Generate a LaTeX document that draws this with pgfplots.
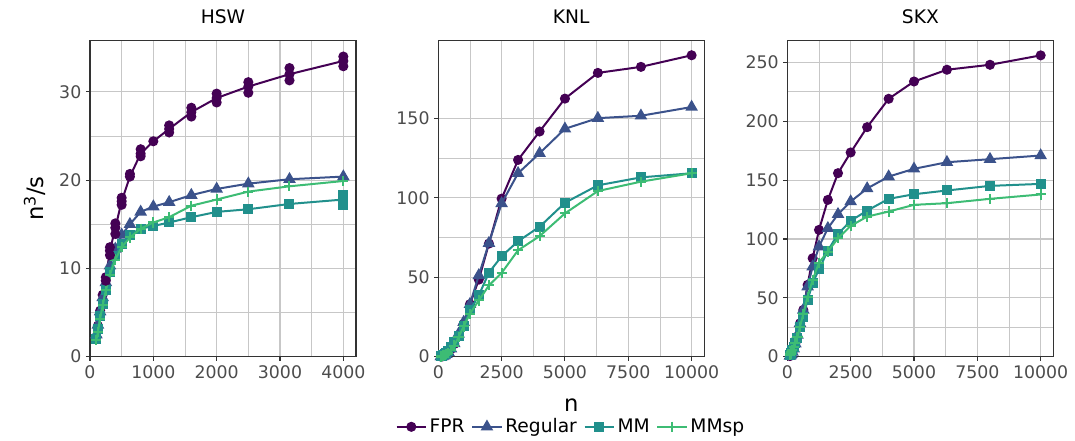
\documentclass[border=0pt]{standalone}
\usepackage{fontspec}
\setmainfont{DejaVu Sans}
\usepackage{pgfplots}
\pgfplotsset{compat=1.18}
\usepackage{pgfplotstable}

\definecolor{cfpr}{HTML}{440154}
\definecolor{creg}{HTML}{3B528B}
\definecolor{cmm}{HTML}{21908C}
\definecolor{cmmsp}{HTML}{3DBC74}

% columns: n, FPR, Regular, MM, MMsp
\pgfplotstableread{
n     fpr   reg   mm    mmsp
100   2.2   2.5   2.0   1.9
125   3.5   3.6   3.1   2.8
160   5.2   5.1   4.6   4.3
200   7.0   6.7   6.0   5.8
250   9.0   8.4   7.6   7.5
315   12.0  10.3  9.6   9.3
400   14.6  12.2  11.4  11.0
500   17.6  13.8  12.8  12.4
630   20.4  15.0  13.8  13.5
800   23.0  16.4  14.5  14.5
1000  24.4  17.0  14.8  15.2
1250  25.8  17.5  15.2  15.8
1600  27.7  18.3  15.8  17.1
2000  29.3  19.0  16.4  17.8
2500  30.6  19.6  16.7  18.7
3150  32.0  20.1  17.3  19.3
4000  33.5  20.4  17.8  19.9
}\hsw

\pgfplotstableread{
n     fpr   reg   mm    mmsp
100   0.05  0.05  0.2   0.1
125   0.1   0.1   0.4   0.2
160   0.2   0.2   0.7   0.4
200   0.4   0.4   1.1   0.7
250   0.8   0.8   1.8   1.1
315   1.5   1.6   2.6   1.7
400   2.7   2.8   3.8   2.5
500   4.8   5.0   5.9   4.0
630   8.0   8.3   9.0   7.0
800   13.0  14.3  13.3  12.2
1000  20.6  21.7  19.6  19.0
1250  33.0  33.0  29.1  27.0
1600  48.5  51.2  38.6  35.4
2000  71.2  71.5  52.9  44.9
2500  99.5  96.5  63.2  52.7
3150  123.9 115.5 72.7  67.0
4000  141.8 128.1 81.8  75.9
5000  162.5 143.5 96.9  90.2
6300  178.7 150.2 107.9 104.3
8000  182.5 151.7 112.9 110.2
10000 189.8 157.2 115.5 115.5
}\knl

\pgfplotstableread{
n     fpr   reg   mm    mmsp
100   0.5   0.5   1.0   1.5
125   1.0   1.0   2.0   2.5
160   2.0   2.0   3.5   4.0
200   4.0   4.0   5.5   6.0
250   7.0   6.8   8.0   8.5
315   11.3  11.0  11.5  12.0
400   17.0  18.4  15.6  16.5
500   28.3  28.3  25.5  25.5
630   39.7  39.7  34.0  36.3
800   61.0  59.5  48.2  51.0
1000  83.6  76.5  62.4  65.2
1250  107.7 93.5  74.3  79.9
1600  133.2 109.1 90.1  89.3
2000  155.9 121.0 104.3 100.6
2500  173.5 131.8 115.4 111.1
3150  195.0 142.9 124.1 119.0
4000  219.1 153.0 134.1 123.3
5000  233.8 159.6 138.0 129.0
6300  243.8 165.2 141.2 130.4
8000  248.0 167.8 145.1 134.1
10000 256.0 170.9 146.8 137.8
}\skx

\pgfplotsset{
  panel/.style={
    scale only axis, width=199.5pt, height=237pt,
    xmin=0, ymin=0,
    grid=both, minor tick num=1,
    major grid style={black!22, line width=0.8pt},
    minor grid style={black!22, line width=0.6pt},
    axis line style={black!80, line width=0.8pt},
    xtick pos=bottom, ytick pos=left,
    tick align=outside, major tick length=3pt, minor tick length=0pt,
    tick style={black!80, line width=0.8pt},
    ticklabel style={font=\fontsize{13}{15}\selectfont, text=black!70},
    title style={font=\fontsize{14}{16}\selectfont, yshift=3pt},
    /pgf/number format/assume math mode=true,
    /pgf/number format/1000 sep={},
    scaled ticks=false,
    clip mode=individual,
    every axis plot/.append style={line width=1.5pt},
  },
  sfpr/.style={cfpr, mark=*, mark size=3pt},
  sreg/.style={creg, mark=triangle*, mark size=4pt},
  smm/.style={cmm, mark=square*, mark size=3pt},
  smmsp/.style={cmmsp, mark=+, mark size=3.8pt, mark options={line width=1.5pt}},
}

\begin{document}
\begin{tikzpicture}
\path[use as bounding box] (-67.5pt,-63.2pt) rectangle (738.75pt,267.5pt);

\begin{axis}[panel, at={(0pt,0pt)}, anchor=south west,
  title={HSW}, xmax=4200, ymax=35.8,
  xtick={0,1000,2000,3000,4000}, ytick={0,10,20,30},
  ylabel={n\textsuperscript{3}/s},
  ylabel style={at={(axis description cs:-0.207,0.5)}, anchor=center,
    font=\fontsize{17}{19}\selectfont}]
\addplot[sfpr] table[x=n, y=fpr] {\hsw};
\addplot[sreg] table[x=n, y=reg] {\hsw};
\addplot[smm] table[x=n, y=mm] {\hsw};
\addplot[smmsp] table[x=n, y=mmsp] {\hsw};
% repeated runs
\addplot[sfpr, only marks, forget plot] coordinates {
  (250,8.6) (315,12.4) (315,11.5) (400,15.1) (400,13.9) (500,18.0) (500,17.2)
  (630,20.7) (800,23.5) (800,22.7) (1250,26.2) (1250,25.4) (1600,28.2) (1600,27.2)
  (2000,29.8) (2000,28.8) (2500,31.1) (2500,29.9) (3150,32.7) (3150,31.3)
  (4000,34.0) (4000,32.9)};
\addplot[smm, only marks, forget plot] coordinates {(4000,17.2) (4000,18.3)};
\end{axis}

\begin{axis}[panel, at={(261.2pt,0pt)}, anchor=south west,
  title={KNL}, xmax=10500, ymax=199,
  xtick={0,2500,5000,7500,10000}, ytick={0,50,100,150},
  xlabel={n},
  xlabel style={at={(axis description cs:0.5,-0.153)}, anchor=center,
    font=\fontsize{17}{19}\selectfont},
  legend style={at={(axis description cs:0.5,-0.222)}, anchor=center,
    draw=none, fill=none, legend columns=4,
    font=\fontsize{14}{16}\selectfont,
    /tikz/every even column/.append style={column sep=3pt}},
  legend image code/.code={\draw[mark repeat=2, mark phase=2, line width=1.5pt]
    plot coordinates {(0pt,0pt) (11pt,0pt) (22pt,0pt)};}]
\addplot[sfpr] table[x=n, y=fpr] {\knl};
\addlegendentry{FPR}
\addplot[sreg] table[x=n, y=reg] {\knl};
\addlegendentry{Regular}
\addplot[smm] table[x=n, y=mm] {\knl};
\addlegendentry{MM}
\addplot[smmsp] table[x=n, y=mmsp] {\knl};
\addlegendentry{MMsp}
\end{axis}

\begin{axis}[panel, at={(523pt,0pt)}, anchor=south west,
  title={SKX}, xmax=10500, ymax=268.5,
  xtick={0,2500,5000,7500,10000}, ytick={0,50,100,150,200,250}]
\addplot[sfpr] table[x=n, y=fpr] {\skx};
\addplot[sreg] table[x=n, y=reg] {\skx};
\addplot[smm] table[x=n, y=mm] {\skx};
\addplot[smmsp] table[x=n, y=mmsp] {\skx};
\end{axis}
\end{tikzpicture}
\end{document}
